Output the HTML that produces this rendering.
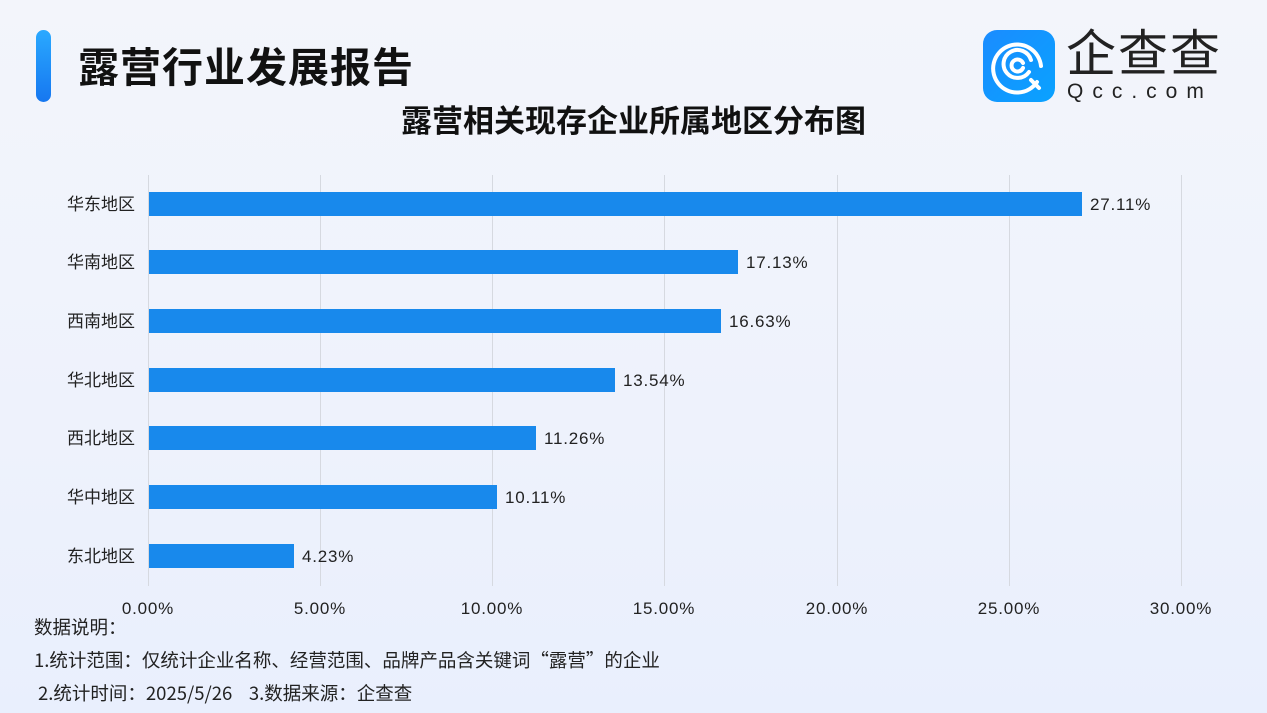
<!DOCTYPE html>
<html><head><meta charset="utf-8"><style>
body{margin:0;width:1267px;height:713px;overflow:hidden;background:linear-gradient(180deg,#f3f5fb 0%,#eef2fc 60%,#e9effd 100%);font-family:"Liberation Sans","Noto Sans CJK SC",sans-serif;position:relative;color:#222}
.a{position:absolute}
.f{position:absolute;left:34px;font-size:18.5px;font-family:"Noto Sans CJK SC",sans-serif;white-space:pre;color:#222;line-height:20px}
</style></head><body>
<div class="a" style="left:36px;top:30px;width:15px;height:72px;border-radius:8px;background:linear-gradient(180deg,#2aa9ff,#1677f0)"></div>
<div class="a" style="left:78px;top:34px;font-size:41px;font-weight:bold;color:#111;letter-spacing:1px">露营行业发展报告</div>
<div class="a" style="left:0;width:1267px;top:96px;text-align:center;font-size:31px;font-weight:bold;color:#111">露营相关现存企业所属地区分布图</div>
<div class="a" style="left:983px;top:30px;width:72px;height:72px;border-radius:14px;background:linear-gradient(135deg,#1a8cff,#0aa2ff)">
<svg width="72" height="72" viewBox="0 0 72 72"><g fill="none" stroke="#fff" stroke-width="4" stroke-linecap="round"><path d="M54 52 A24 24 0 1 1 58 36"/><path d="M46 42 A14 14 0 1 1 48 30"/><path d="M40 38 A6 6 0 1 1 40 33"/><path d="M48 50 L56 58"/></g></svg></div>
<div class="a" style="left:1066px;top:26px;font-size:50px;color:#222;letter-spacing:2px;line-height:56px">企查查</div>
<div class="a" style="left:1067px;top:80px;font-size:21px;color:#222;letter-spacing:9px">Qcc.com</div>
<svg class="a" style="left:0;top:0" width="1267" height="713">
<g stroke="#d6d9e0" stroke-width="1">
<line x1="148.5" y1="175" x2="148.5" y2="586"/><line x1="320.5" y1="175" x2="320.5" y2="586"/><line x1="492.5" y1="175" x2="492.5" y2="586"/><line x1="664.5" y1="175" x2="664.5" y2="586"/><line x1="837.5" y1="175" x2="837.5" y2="586"/><line x1="1009.5" y1="175" x2="1009.5" y2="586"/><line x1="1181.5" y1="175" x2="1181.5" y2="586"/>
</g>
<g fill="#1889ec">
<rect x="149" y="192" width="933" height="24"/>
<rect x="149" y="250" width="589" height="24"/>
<rect x="149" y="309" width="572" height="24"/>
<rect x="149" y="368" width="466" height="24"/>
<rect x="149" y="426" width="387" height="24"/>
<rect x="149" y="485" width="348" height="24"/>
<rect x="149" y="544" width="145" height="24"/>
</g>
<g font-size="16" fill="#222" font-family="Liberation Sans,Noto Sans CJK SC,sans-serif">
<g text-anchor="end" font-size="17">
<text x="135" y="210">华东地区</text><text x="135" y="268">华南地区</text><text x="135" y="327">西南地区</text><text x="135" y="386">华北地区</text><text x="135" y="444">西北地区</text><text x="135" y="503">华中地区</text><text x="135" y="562">东北地区</text>
</g>
<g font-size="17" letter-spacing="0.8">
<text x="1090" y="210">27.11%</text><text x="746" y="268">17.13%</text><text x="729" y="327">16.63%</text><text x="623" y="386">13.54%</text><text x="544" y="444">11.26%</text><text x="505" y="503">10.11%</text><text x="302" y="562">4.23%</text>
</g>
<g text-anchor="middle" font-size="17" letter-spacing="0.8">
<text x="148" y="614">0.00%</text><text x="320" y="614">5.00%</text><text x="492" y="614">10.00%</text><text x="664" y="614">15.00%</text><text x="837" y="614">20.00%</text><text x="1009" y="614">25.00%</text><text x="1181" y="614">30.00%</text>
</g>
</g>
</svg>
<div class="f" style="top:617px">数据说明：</div>
<div class="f" style="top:650px">1.统计范围：仅统计企业名称、经营范围、品牌产品含关键词“露营”的企业</div>
<div class="f" style="top:683px;left:38px">2.统计时间：2025/5/26    3.数据来源：企查查</div>
</body></html>
